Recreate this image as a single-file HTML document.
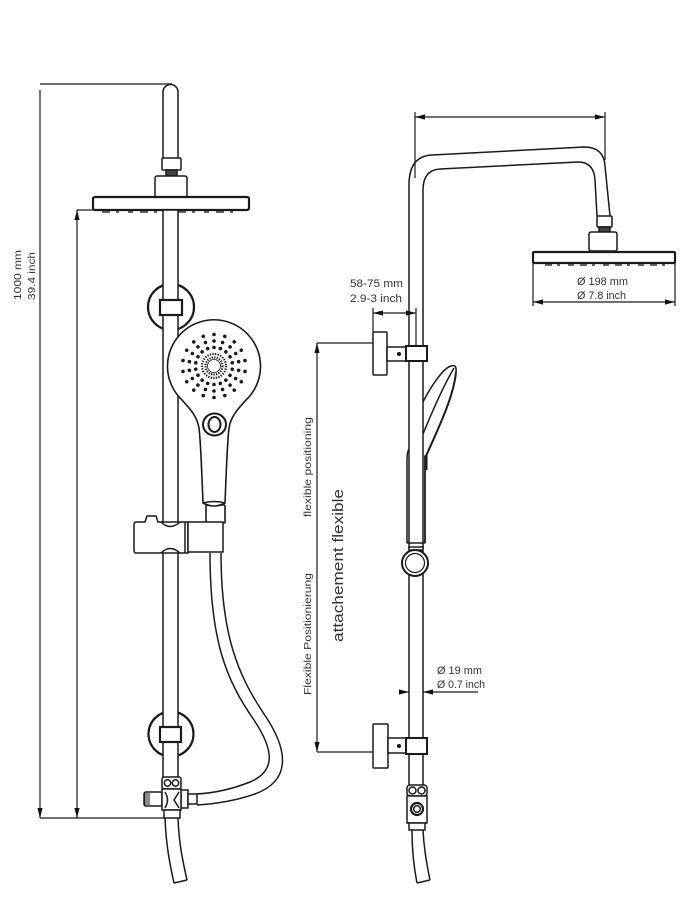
<!DOCTYPE html>
<html><head><meta charset="utf-8">
<style>html,body{margin:0;padding:0;background:#fff}svg{display:block}</style>
</head><body>
<svg width="690" height="920" viewBox="0 0 690 920" xmlns="http://www.w3.org/2000/svg">
<defs>
<marker id="a" markerWidth="10" markerHeight="6" refX="10" refY="3" orient="auto-start-reverse" markerUnits="userSpaceOnUse"><path d="M0,0.4 L10,3 L0,5.6z" fill="#111"/></marker>
<g id="ray"><circle cx="0" cy="-18.5" r="1.8"/><circle cx="0" cy="-25" r="1.8"/><circle cx="0" cy="-31.5" r="1.8"/></g>
</defs>
<rect width="690" height="920" fill="#fff"/>

<!-- ================= LEFT VIEW ================= -->
<g fill="none" stroke="#1a1a1a" stroke-width="1.2">
  <path d="M40,84 H172"/>
  <path d="M40,90 V818" marker-end="url(#a)"/>
  <path d="M40,818 H165"/>
  <path d="M77,210 V818" marker-start="url(#a)" marker-end="url(#a)"/>
  <path d="M77,210 H95"/>
</g>
<g font-family="Liberation Sans, sans-serif" font-size="10" fill="#333">
  <text transform="translate(21,275) rotate(-90)" text-anchor="middle" textLength="50" lengthAdjust="spacingAndGlyphs">1000 mm</text>
  <text transform="translate(35,276) rotate(-90)" text-anchor="middle" textLength="48" lengthAdjust="spacingAndGlyphs">39.4 inch</text>
</g>

<g stroke="#1a1a1a" stroke-width="1.5" fill="#fff">
  <!-- upper arm -->
  <path d="M163,158 V92 A7.5,7.5 0 0 1 178,92 V158"/>
  <rect x="162" y="158" width="19" height="12" rx="1"/>
  <rect x="166" y="170" width="11" height="6" fill="#444"/>
  <rect x="155" y="176" width="32" height="21" rx="2"/>
  <rect x="93" y="197" width="156" height="13" rx="2" stroke-width="2.2"/>
</g>
<path d="M102,212 H240" stroke="#333" stroke-width="1.6" stroke-dasharray="8 6 3 9 5 7" fill="none"/>

<!-- bracket circles -->
<g fill="none" stroke="#1a1a1a" stroke-width="2.2">
  <circle cx="171" cy="307" r="23"/>
  <circle cx="171" cy="734" r="22.5"/>
</g>

<!-- riser -->
<rect x="163" y="210" width="15" height="568" fill="#fff" stroke="#1a1a1a" stroke-width="1.5"/>

<!-- clamps -->
<g fill="#fff" stroke="#1a1a1a" stroke-width="2.2">
  <rect x="160" y="300" width="22" height="15"/>
  <rect x="160" y="727" width="21" height="15"/>
</g>

<!-- hose -->
<g fill="none" stroke="#1a1a1a" stroke-width="1.5">
  <path d="M210,553 C210,640 226,680 254,720 C274,750 276,771 250,782 C230,790 214,793 197,794"/>
  <path d="M221,553 C221,635 238,675 264,714 C290,752 290,781 255,794 C235,801 214,804 197,805"/>
</g>

<!-- hand shower -->
<g stroke="#1a1a1a" stroke-width="1.6" fill="#fff">
  <rect x="206" y="505" width="19" height="18" rx="1"/>
  <path d="M203,503 C202,480 201,445 199,428 C197,415 188,407 182,400 A46.5,46.5 0 1 1 246,400 C240,407 231,415 229,428 C227,445 226,480 225,503 Q214,509 203,503 Z"/>
  <path d="M203,503 Q214,500 225,503" fill="none"/>
  <ellipse cx="214.5" cy="424.5" rx="11.5" ry="11" stroke-width="2"/>
  <ellipse cx="214.5" cy="424.5" rx="6" ry="7.5" stroke-width="2"/>
</g>
<g fill="#1a1a1a">
  <use href="#ray" transform="translate(214,366) rotate(0)"/>
  <use href="#ray" transform="translate(214,366) rotate(20)"/>
  <use href="#ray" transform="translate(214,366) rotate(40)"/>
  <use href="#ray" transform="translate(214,366) rotate(60)"/>
  <use href="#ray" transform="translate(214,366) rotate(80)"/>
  <use href="#ray" transform="translate(214,366) rotate(100)"/>
  <use href="#ray" transform="translate(214,366) rotate(120)"/>
  <use href="#ray" transform="translate(214,366) rotate(140)"/>
  <use href="#ray" transform="translate(214,366) rotate(160)"/>
  <use href="#ray" transform="translate(214,366) rotate(180)"/>
  <use href="#ray" transform="translate(214,366) rotate(200)"/>
  <use href="#ray" transform="translate(214,366) rotate(220)"/>
  <use href="#ray" transform="translate(214,366) rotate(240)"/>
  <use href="#ray" transform="translate(214,366) rotate(260)"/>
  <use href="#ray" transform="translate(214,366) rotate(280)"/>
  <use href="#ray" transform="translate(214,366) rotate(300)"/>
  <use href="#ray" transform="translate(214,366) rotate(320)"/>
  <use href="#ray" transform="translate(214,366) rotate(340)"/>
</g>
<g fill="none" stroke="#1a1a1a">
  <circle cx="214" cy="366" r="8.5" stroke-width="2.2" stroke-dasharray="1.3 1.2"/>
  <circle cx="214" cy="366" r="12" stroke-width="2.2" stroke-dasharray="1.3 1.3"/>
  <circle cx="214" cy="366" r="6.5" stroke-width="0.8"/>
</g>

<!-- slider -->
<g stroke="#1a1a1a" stroke-width="1.5" fill="#fff">
  <path d="M136,522 H145 L147,516 H156 L158,522 H188 V553 H136 Q134,553 134,550 V525 Q134,522 136,522 Z"/>
  <rect x="188" y="522" width="35" height="30"/>
  <path d="M185,522 V553" fill="none"/>
  <path d="M161,522 Q170,531 180,522" fill="none"/>
  <path d="M161,553 Q170,544 180,553" fill="none"/>
</g>

<!-- diverter left -->
<g stroke="#1a1a1a" stroke-width="1.5" fill="#fff">
  <rect x="162" y="777" width="19" height="12" rx="2"/>
  <circle cx="167.5" cy="783" r="3.2"/>
  <circle cx="175.5" cy="783" r="3.2"/>
  <rect x="144" y="792" width="18" height="14" rx="2"/>
  <rect x="181" y="790" width="7" height="18"/>
  <rect x="188" y="794" width="9" height="10"/>
  <rect x="162" y="789" width="19" height="21"/>
  <path d="M165,792 Q170,800 165,808 M179,792 L174,800 L179,808" fill="none"/>
  <rect x="164" y="810" width="16" height="8"/>
  <path d="M145,793 V805 M147,793 V805 M149,793 V805" fill="none" stroke-width="1"/>
  <path d="M165,818 C166,845 170,865 174,883 M178,818 C179,845 183,862 187,880 M174,883 L187,880" fill="none"/>
</g>

<!-- ================= RIGHT VIEW ================= -->
<g fill="none" stroke="#1a1a1a" stroke-width="1.2">
  <path d="M415,117 H605" marker-start="url(#a)" marker-end="url(#a)"/>
  <path d="M415,112 V178"/>
  <path d="M605,112 V160"/>
</g>

<!-- riser & arm -->
<g fill="none" stroke="#1a1a1a" stroke-width="1.5">
  <path d="M409,785 V185 Q409,156 432,155 L584,147 Q604,147 605,166 L610,216"/>
  <path d="M423,785 V190 Q423,170 440,169 L578,162 Q594,162 595,180 L597,216"/>
</g>
<g stroke="#1a1a1a" stroke-width="1.5" fill="#fff">
  <rect x="597" y="216" width="15" height="11" rx="1"/>
  <rect x="599" y="227" width="11" height="5" fill="#444"/>
  <rect x="589" y="232" width="28" height="19" rx="2"/>
  <rect x="533" y="252" width="142" height="11" rx="1" stroke-width="2.2"/>
</g>
<path d="M545,265 H665" stroke="#333" stroke-width="1.5" stroke-dasharray="7 5 3 8 6 6" fill="none"/>
<g fill="none" stroke="#1a1a1a" stroke-width="1.2">
  <path d="M533,263 V306 M675,263 V306"/>
  <path d="M533,302 H675" marker-start="url(#a)" marker-end="url(#a)"/>
</g>

<!-- bracket dims -->
<g fill="none" stroke="#1a1a1a" stroke-width="1.2">
  <path d="M373,313 H416" marker-start="url(#a)" marker-end="url(#a)"/>
  <path d="M373,308 V332 M416,308 V346"/>
  <path d="M317,343 H373"/>
  <path d="M317,343 V752" marker-start="url(#a)" marker-end="url(#a)"/>
  <path d="M317,752 H373"/>
  <path d="M400,692 H409" marker-end="url(#a)"/>
  <path d="M478,692 H423" marker-end="url(#a)"/>
</g>

<!-- brackets -->
<g stroke="#1a1a1a" stroke-width="1.5" fill="#fff">
  <rect x="373" y="332" width="14" height="43" rx="1"/>
  <rect x="387" y="347" width="20" height="14"/>
  <rect x="406" y="346" width="21" height="15" stroke-width="2"/>
  <rect x="373" y="724" width="15" height="44" rx="1"/>
  <rect x="388" y="738" width="19" height="15"/>
  <rect x="406" y="738" width="21" height="16" stroke-width="2"/>
</g>
<circle cx="399" cy="354" r="2" fill="#111"/>
<circle cx="399" cy="746" r="2" fill="#111"/>

<!-- hand shower side -->
<g fill="none" stroke="#1a1a1a" stroke-width="1.5">
  <path d="M423,402 C430,388 443,368 451,366 Q457,364 456,372"/>
  <path d="M456,372 C454,395 440,425 426,456" stroke-width="2"/>
  <path d="M423,434 C432,412 444,385 454,368"/>
  <path d="M407,543 V460 Q407,452 409,449"/>
  <path d="M425,543 V456" stroke-width="1.8"/>
  <path d="M426,455 V470" stroke-width="3"/>
  <path d="M407,543 H425 M408,547 H424 M409,550 H423"/>
</g>
<circle cx="415" cy="563" r="13" fill="#fff" stroke="#1a1a1a" stroke-width="2"/>
<circle cx="415" cy="563" r="9.5" fill="#fff" stroke="#1a1a1a" stroke-width="1.2"/>

<!-- diverter right -->
<g stroke="#1a1a1a" stroke-width="1.5" fill="#fff">
  <rect x="407" y="785" width="20" height="11" rx="3"/>
  <circle cx="412.5" cy="790.5" r="3.5"/>
  <circle cx="421.5" cy="790.5" r="3.5"/>
  <rect x="407" y="796" width="20" height="27"/>
  <circle cx="417" cy="809" r="6" stroke-width="2.2"/>
  <circle cx="417" cy="809" r="3.3"/>
  <rect x="409" y="823" width="16" height="7"/>
  <path d="M412,830 C412,850 414,868 417,883 M423,830 C424,850 427,866 430,880 M417,883 L430,880" fill="none"/>
</g>

<!-- right texts -->
<g font-family="Liberation Sans, sans-serif" font-size="11" fill="#333">
  <text x="350" y="287" textLength="53" lengthAdjust="spacingAndGlyphs">58-75 mm</text>
  <text x="350" y="302" textLength="52" lengthAdjust="spacingAndGlyphs">2.9-3 inch</text>
  <text x="577" y="285" textLength="51" lengthAdjust="spacingAndGlyphs">Ø 198 mm</text>
  <text x="577" y="299" textLength="49" lengthAdjust="spacingAndGlyphs">Ø 7.8 inch</text>
  <text x="437" y="674" textLength="45" lengthAdjust="spacingAndGlyphs">Ø 19 mm</text>
  <text x="437" y="688" textLength="48" lengthAdjust="spacingAndGlyphs">Ø 0.7 inch</text>
  <text transform="translate(311,467) rotate(-90)" text-anchor="middle" font-size="10.5" textLength="100" lengthAdjust="spacingAndGlyphs">flexible positioning</text>
  <text transform="translate(311,634) rotate(-90)" text-anchor="middle" font-size="10.5" textLength="122" lengthAdjust="spacingAndGlyphs">Flexible Positionierung</text>
  <text transform="translate(343,565.5) rotate(-90)" text-anchor="middle" font-size="15" textLength="153" lengthAdjust="spacingAndGlyphs">attachement flexible</text>
</g>
</svg>
</body></html>
